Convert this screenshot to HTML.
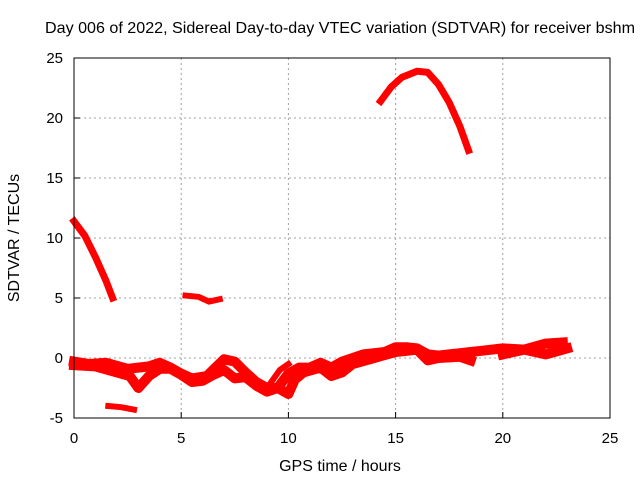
<!DOCTYPE html>
<html><head><meta charset="utf-8"><style>
body{margin:0;background:#fff}
svg{display:block;font-family:"Liberation Sans",sans-serif}
</style></head><body>
<svg id="chart" width="640" height="480">
<text x="340" y="33" font-size="16" text-anchor="middle" textLength="590" lengthAdjust="spacingAndGlyphs">Day 006 of 2022, Sidereal Day-to-day VTEC variation (SDTVAR) for receiver bshm</text>
<text x="340" y="471" font-size="16" text-anchor="middle">GPS time / hours</text>
<text x="0" y="0" font-size="16" text-anchor="middle" transform="translate(19,238) rotate(-90)">SDTVAR / TECUs</text>
<g id="grid"></g>
<g id="series"></g>
<rect x="74" y="58" width="536" height="360" fill="none" stroke="#000" stroke-width="1"/>
</svg>
<script>
const xTicks=[0,5,10,15,20,25];
const yTicks=[-5,0,5,10,15,20,25];
const seg1=[[0,11.4],[0.5,10.2],[1,8.4],[1.5,6.4],[1.8,5.0]];
const seg2=[[5.2,5.2],[5.8,5.1],[6.3,4.7],[6.8,4.9]];
const seg3=[[14.3,21.4],[14.8,22.6],[15.3,23.4],[16,23.9],[16.5,23.8],[17,22.8],[17.5,21.3],[18,19.3],[18.4,17.3]];
const seg4=[[1.6,-4],[2.2,-4.1],[2.8,-4.3]];
const seg5=[[0,-0.3],[0.7,-0.5],[1.5,-0.4],[2.5,-0.9],[3,-0.8],[3.5,-0.7],[4,-0.4],[4.5,-0.8],[5,-1.3],[5.5,-1.7],[6.2,-1.5],[7,-0.1],[7.5,-0.3],[8,-1.2],[8.5,-2],[9,-2.5],[9.5,-2.5],[10,-1.3],[10.5,-0.8],[11,-0.8],[11.5,-0.4],[12,-0.8],[12.5,-0.3],[13,0],[13.5,0.3],[14,0.4],[14.5,0.5],[15,0.9],[15.5,0.9],[16,0.8],[16.5,0.3],[17,0.2],[17.5,0.3],[18,0.4],[18.5,0.5],[19,0.6],[20,0.8],[21,0.7],[22,1.2],[22.8,1.3]];
const seg6=[[0,-0.6],[1,-0.7],[2,-1.2],[2.6,-1.5],[3,-2.5],[3.5,-1.5],[4,-0.9],[4.5,-0.9],[5,-1.4],[5.5,-2],[6,-1.9],[6.5,-1.4],[7,-1],[7.5,-1.7],[8,-1.6],[8.5,-2.3],[9,-2.8],[9.5,-2.5],[10,-3],[10.3,-1.8],[10.7,-1.2],[11.5,-0.8],[12,-1.5],[12.5,-1.2],[13,-0.5],[14,0],[15,0.5],[16,0.7],[16.5,-0.2],[17,0],[18,0.1],[18.5,-0.2]];
const seg7=[[9.2,-2],[9.6,-1],[10,-0.5]];
const seg8=[[20,0.3],[21,0.7],[22,0.3],[23,0.8]];
const X=v=>74+v*536/25, Y=v=>418-(v+5)*12;
const NS="http://www.w3.org/2000/svg";
const grid=document.getElementById('grid');
xTicks.forEach(t=>{
  if(t>0&&t<25){const l=document.createElementNS(NS,'line');
  l.setAttribute('x1',X(t));l.setAttribute('x2',X(t));l.setAttribute('y1',58);l.setAttribute('y2',418);
  l.setAttribute('stroke','#a0a0a0');l.setAttribute('stroke-dasharray','2,3');
  
  grid.appendChild(l);}
  const k=document.createElementNS(NS,'line');
  k.setAttribute('x1',X(t));k.setAttribute('x2',X(t));k.setAttribute('y1',418);k.setAttribute('y2',412);k.setAttribute('stroke','#000');
  
  grid.appendChild(k);
  const tx=document.createElementNS(NS,'text');
  tx.setAttribute('x',X(t));tx.setAttribute('y',443);tx.setAttribute('font-size','15');tx.setAttribute('text-anchor','middle');tx.textContent=t;
  
  grid.appendChild(tx);
});
yTicks.forEach(t=>{
  if(t>-5&&t<25){const l=document.createElementNS(NS,'line');
  l.setAttribute('x1',74);l.setAttribute('x2',610);l.setAttribute('y1',Y(t));l.setAttribute('y2',Y(t));
  l.setAttribute('stroke','#a0a0a0');l.setAttribute('stroke-dasharray','2,3');
  
  grid.appendChild(l);}
  const k=document.createElementNS(NS,'line');
  k.setAttribute('x1',74);k.setAttribute('x2',80);k.setAttribute('y1',Y(t));k.setAttribute('y2',Y(t));k.setAttribute('stroke','#000');
  
  grid.appendChild(k);
  const tx=document.createElementNS(NS,'text');
  tx.setAttribute('x',63);tx.setAttribute('y',Y(t)+5);tx.setAttribute('font-size','15');tx.setAttribute('text-anchor','end');tx.textContent=t;
  
  grid.appendChild(tx);
});
const ser=document.getElementById('series');
[[seg1,7],[seg2,6],[seg3,7],[seg4,6],[seg5,10],[seg6,10],[seg7,6],[seg8,10]].forEach(([s,w])=>{
  const p=document.createElementNS(NS,'polyline');
  p.setAttribute('points',s.map(d=>X(d[0])+','+Y(d[1])).join(' '));
  p.setAttribute('fill','none');p.setAttribute('stroke','#ff0000');p.setAttribute('stroke-width',w);
  p.setAttribute('stroke-linejoin','round');p.setAttribute('stroke-linecap','square');
  
  
  ser.appendChild(p);
});
</script>
</body></html>
